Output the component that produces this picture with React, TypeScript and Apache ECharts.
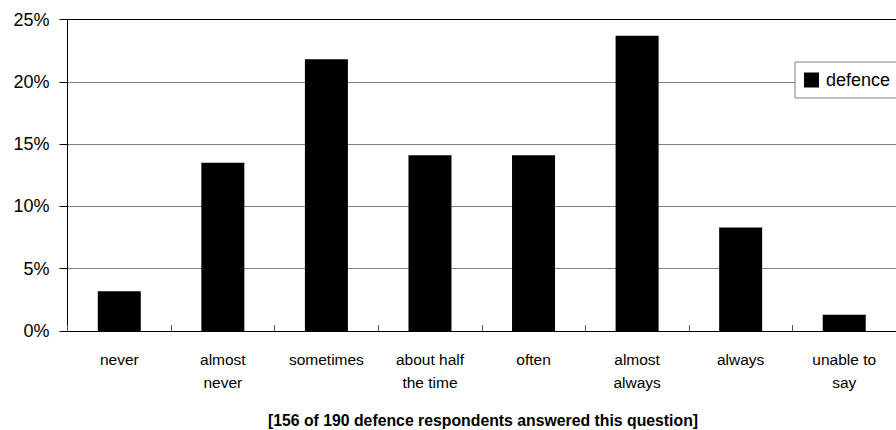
import React, { useEffect, useRef } from "react";
import * as echarts from "echarts";

const categories = [
  "never",
  "almost\nnever",
  "sometimes",
  "about half\nthe time",
  "often",
  "almost\nalways",
  "always",
  "unable to\nsay",
];
const defenceValues = [3.2, 13.5, 21.8, 14.1, 14.1, 23.7, 8.3, 1.3];
const seriesName = "defence";
const footnote = "[156 of 190 defence respondents answered this question]";

const FONT = '"Liberation Sans", Arial, sans-serif';

export default function App() {
  const ref = useRef<HTMLDivElement>(null);
  useEffect(() => {
    if (!ref.current) return;
    const chart = echarts.init(ref.current, null, { renderer: "svg" });
    chart.setOption({
      animation: false,
      backgroundColor: "#ffffff",
      textStyle: { fontFamily: FONT, color: "#000" },
      grid: { left: 67.5, top: 19.5, width: 836, height: 311.5, containLabel: false },
      legend: {
        show: true,
        left: 795,
        top: 62,
        orient: "vertical",
        icon: "rect",
        itemWidth: 15,
        itemHeight: 15,
        itemGap: 0,
        padding: [9, 40, 9, 9],
        borderColor: "#808080",
        borderWidth: 1,
        backgroundColor: "#fff",
        textStyle: { fontFamily: FONT, fontSize: 18, color: "#000", padding: [0, 0, 0, 2] },
        data: [seriesName],
      },
      xAxis: [
        {
          type: "category",
          data: categories,
          position: "bottom",
          axisLine: { show: true, lineStyle: { color: "#000", width: 1 } },
          axisTick: { show: true, inside: true, length: 6, lineStyle: { color: "#555" } },
          axisLabel: {
            color: "#000",
            fontFamily: FONT,
            fontSize: 15.5,
            lineHeight: 23,
            margin: 17,
            interval: 0,
          },
          splitLine: { show: false },
        },
        {
          type: "category",
          data: categories,
          position: "top",
          axisLine: { show: true, lineStyle: { color: "#000", width: 1 } },
          axisTick: { show: false },
          axisLabel: { show: false },
          splitLine: { show: false },
        },
      ],
      yAxis: {
        type: "value",
        min: 0,
        max: 25,
        interval: 5,
        axisLine: { show: true, lineStyle: { color: "#000", width: 1 } },
        axisTick: { show: true, length: 8, lineStyle: { color: "#000" } },
        axisLabel: {
          formatter: "{value}%",
          color: "#000",
          fontFamily: FONT,
          fontSize: 18,
          margin: 18,
        },
        splitLine: { show: true, lineStyle: { color: "#808080", width: 1 } },
      },
      series: [
        {
          name: seriesName,
          type: "bar",
          xAxisIndex: 0,
          data: defenceValues,
          barWidth: 43,
          itemStyle: { color: "#000" },
        },
      ],
      graphic: [
        {
          type: "text",
          x: 483,
          y: 420,
          style: {
            text: footnote,
            fill: "#000",
            font: `bold 15.8px ${FONT}`,
            textAlign: "center",
            textVerticalAlign: "middle",
          },
        },
      ],
    });
    return () => chart.dispose();
  }, []);
  return (
    <div
      ref={ref}
      style={{ position: "absolute", left: 0, top: 0, width: 896, height: 430, overflow: "hidden" }}
    />
  );
}
